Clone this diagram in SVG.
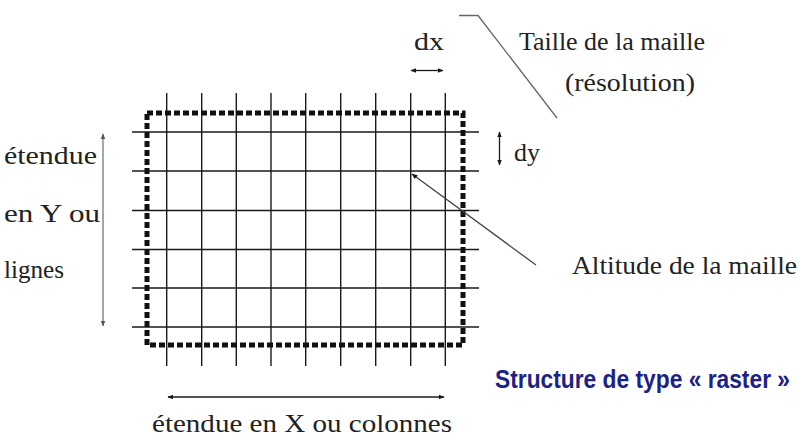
<svg xmlns="http://www.w3.org/2000/svg" width="800" height="440" viewBox="0 0 800 440">
<defs>
<style>
.t{font-family:"Liberation Serif","Times New Roman",serif;font-size:26px;fill:#222}
.b{font-family:"Liberation Sans",Arial,sans-serif;font-weight:bold;font-size:21px;fill:#1c2288}
.g{stroke:#1a1a1a;stroke-width:1.4;fill:none}
.ld{stroke:#666;stroke-width:1.3;fill:none}
</style>
<marker id="ah" viewBox="0 0 10 10" refX="9" refY="5" markerWidth="6" markerHeight="6" orient="auto-start-reverse" markerUnits="userSpaceOnUse">
<path d="M0,1 L10,5 L0,9 Z" fill="#1a1a1a"/>
</marker>
<marker id="ahg" viewBox="0 0 10 10" refX="9" refY="5" markerWidth="6" markerHeight="6" orient="auto-start-reverse" markerUnits="userSpaceOnUse">
<path d="M0,1 L10,5 L0,9 Z" fill="#555"/>
</marker>
</defs>
<rect width="800" height="440" fill="#fff"/>
<g id="grid">
<g class="g">
<line x1="166.7" y1="93" x2="166.7" y2="366"/>
<line x1="201.7" y1="93" x2="201.7" y2="366"/>
<line x1="236.3" y1="93" x2="236.3" y2="366"/>
<line x1="271" y1="93" x2="271" y2="366"/>
<line x1="305.7" y1="93" x2="305.7" y2="366"/>
<line x1="340.7" y1="93" x2="340.7" y2="366"/>
<line x1="375.7" y1="93" x2="375.7" y2="366"/>
<line x1="410.7" y1="93" x2="410.7" y2="366"/>
<line x1="445.3" y1="93" x2="445.3" y2="366"/>
<line x1="132" y1="132" x2="479" y2="132"/>
<line x1="132" y1="171" x2="479" y2="171"/>
<line x1="132" y1="210.5" x2="479" y2="210.5"/>
<line x1="132" y1="249.5" x2="479" y2="249.5"/>
<line x1="132" y1="288" x2="479" y2="288"/>
<line x1="132" y1="327" x2="479" y2="327"/>
</g>
<rect x="147" y="113" width="316" height="232" fill="none" stroke="#111" stroke-width="5" stroke-dasharray="6 3"/>
</g>
<g id="connectors">
<line x1="411" y1="70.5" x2="443" y2="70.5" stroke="#1a1a1a" stroke-width="1.3" marker-start="url(#ah)" marker-end="url(#ah)"/>
<line x1="499.5" y1="132" x2="499.5" y2="165" stroke="#1a1a1a" stroke-width="1.3" marker-start="url(#ah)" marker-end="url(#ah)"/>
<line x1="103" y1="134" x2="103" y2="326" stroke="#777" stroke-width="1.3" marker-start="url(#ahg)" marker-end="url(#ahg)"/>
<line x1="168" y1="397" x2="444" y2="397" stroke="#1a1a1a" stroke-width="1.3" marker-start="url(#ah)" marker-end="url(#ah)"/>
<polyline class="ld" points="459,15.5 478,15.5 557,118"/>
<line x1="536" y1="265" x2="412" y2="174" stroke="#444" stroke-width="1.3" marker-end="url(#ah)"/>
</g>
<g id="labels">
<text class="t" x="414" y="50" textLength="30" lengthAdjust="spacingAndGlyphs">dx</text>
<text class="t" x="519" y="50" textLength="186" lengthAdjust="spacingAndGlyphs">Taille de la maille</text>
<text class="t" x="565" y="91" textLength="130" lengthAdjust="spacingAndGlyphs">(résolution)</text>
<text class="t" x="514" y="161" textLength="26" lengthAdjust="spacingAndGlyphs">dy</text>
<text class="t" x="4" y="164" textLength="93" lengthAdjust="spacingAndGlyphs">étendue</text>
<text class="t" x="4" y="222" textLength="96" lengthAdjust="spacingAndGlyphs">en Y ou</text>
<text class="t" x="4" y="278" textLength="60" lengthAdjust="spacingAndGlyphs">lignes</text>
<text class="t" x="572" y="274" textLength="225" lengthAdjust="spacingAndGlyphs">Altitude de la maille</text>
<text class="t" x="152" y="432" textLength="300" lengthAdjust="spacingAndGlyphs">étendue en X ou colonnes</text>
<text class="b" transform="translate(495,388) scale(1,1.2)" x="0" y="0" textLength="295" lengthAdjust="spacingAndGlyphs">Structure de type « raster »</text>
</g>
</svg>
